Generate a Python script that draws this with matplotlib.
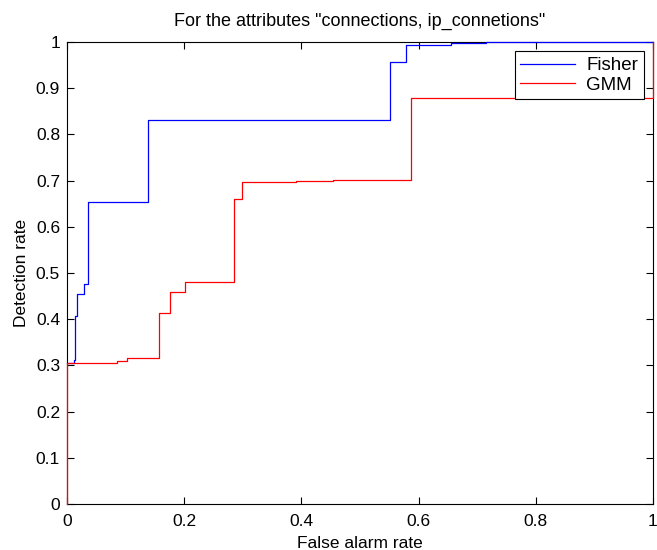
import matplotlib.pyplot as plt

plt.rcParams['font.family'] = ['Liberation Sans', 'DejaVu Sans']

# ROC breakpoints (step, post)
fisher_fpr = [0, 0.012, 0.014, 0.0165, 0.0285, 0.035, 0.138, 0.552, 0.578, 0.655, 0.715, 1.0]
fisher_tpr = [0.305, 0.312, 0.408, 0.455, 0.476, 0.654, 0.831, 0.956, 0.994, 0.997, 1.0, 1.0]

gmm_fpr = [0, 0, 0.085, 0.102, 0.1575, 0.176, 0.202, 0.2844, 0.299, 0.391, 0.454, 0.5876, 1.0, 1.0]
gmm_tpr = [0, 0.306, 0.309, 0.316, 0.413, 0.458, 0.480, 0.660, 0.696, 0.700, 0.702, 0.879, 0.879, 1.0]

x_ticks = [0, 0.2, 0.4, 0.6, 0.8, 1]
y_ticks = [0, 0.1, 0.2, 0.3, 0.4, 0.5, 0.6, 0.7, 0.8, 0.9, 1]


def fmt(v):
    return "0" if v == 0 else ("1" if v == 1 else f"{v:g}")


fig = plt.figure(figsize=(6.57, 5.5), dpi=100)
ax = fig.add_axes([0.102, 0.0836, 0.8919, 0.84])

ax.step(fisher_fpr, fisher_tpr, where='post', color='#0000ff', lw=0.9,
        label='Fisher', clip_on=False, zorder=3)
ax.step(gmm_fpr, gmm_tpr, where='post', color='#ff0000', lw=0.9,
        label='GMM', clip_on=False, zorder=3)

ax.set_xlim(0, 1)
ax.set_ylim(0, 1)
ax.set_xticks(x_ticks)
ax.set_xticklabels([fmt(v) for v in x_ticks])
ax.set_yticks(y_ticks)
ax.set_yticklabels([fmt(v) for v in y_ticks])
ax.tick_params(direction='in', top=True, right=True, labelsize=12.5, length=5, width=0.8)
ax.tick_params(axis='x', pad=7)
ax.tick_params(axis='y', pad=5)
for s in ax.spines.values():
    s.set_linewidth(0.8)

ax.set_xlabel('False alarm rate', fontsize=12.5, labelpad=5)
ax.set_ylabel('Detection rate', fontsize=12.5, labelpad=5)
ax.set_title('For the attributes "connections, ip_connetions"', fontsize=13, pad=12)

leg = ax.legend(loc='upper right', fontsize=13.5, fancybox=False, edgecolor='black',
                framealpha=1, handlelength=2.9, borderaxespad=0.5, borderpad=0.3,
                labelspacing=0.12, handletextpad=0.6)
leg.get_frame().set_linewidth(0.8)
leg.set_zorder(5)

fig.savefig('out.png', dpi=100)
